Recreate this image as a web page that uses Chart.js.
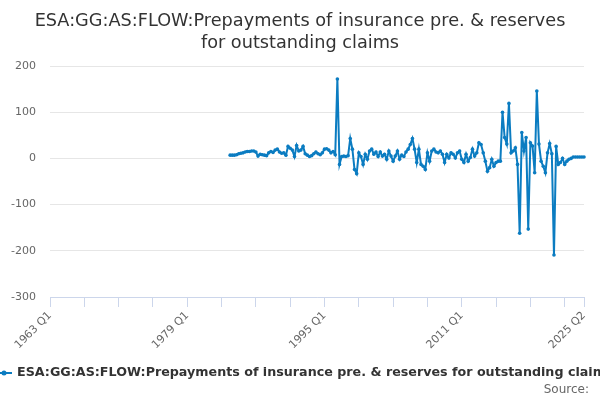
<!DOCTYPE html>
<html>
<head>
<meta charset="utf-8">
<title>ESA:GG:AS:FLOW</title>
<script src="https://cdn.jsdelivr.net/npm/chart.js@4/dist/chart.umd.min.js"></script>
<style>
  html, body { margin: 0; padding: 0; background: #fff; }
  #wrap { width: 600px; height: 400px; position: relative; }
</style>
</head>
<body>
<div id="wrap"><canvas id="flowChart" width="600" height="400"></canvas></div>
<script>
// Quarterly axis: 1963 Q1 .. 2025 Q2
const firstYear = 1963;
const lastYear = 2025;
const lastQuarter = 2;

// Tick labels shown under the axis
const tickLabels = ['1963 Q1', '1979 Q1', '1995 Q1', '2011 Q1', '2025 Q2'];

// Series starts in 1984 Q1
const seriesStart = '1984 Q1';
const titleLines = ['ESA:GG:AS:FLOW:Prepayments of insurance pre. & reserves', 'for outstanding claims'];
const seriesLabel = 'ESA:GG:AS:FLOW:Prepayments of insurance pre. & reserves for outstanding claims';
const flowValues = [
  7, 7, 7, 8, 10, 11, 12, 14, 15, 15, 16, 16, 14, 5,
  9, 8, 7, 6, 12, 15, 13, 18, 20, 14, 11, 12, 7, 26,
  22, 18, 4, 28, 16, 18, 26, 10, 7, 4, 6, 10, 14, 10,
  8, 12, 20, 21, 18, 12, 15, 8, 172, -13, 4, 5, 4, 6,
  43, 20, -24, -33, 12, 4, -13, 9, -2, 16, 20, 9, 14, 4,
  14, 5, 9, -2, 16, 5, -6, 5, 16, -2, 7, 4, 14, 20,
  30, 43, 20, -9, 20, -13, -17, -24, 12, -6, 16, 20, 14, 12,
  16, 9, -9, 9, 1, 12, 9, 1, 12, 16, -2, -9, 9, -6,
  2, 20, 5, 12, 34, 30, 12, -6, -28, -20, -2, -17, -9, -6,
  -6, 100, 45, 31, 119, 12, 16, 23, -13, -162, 56, 16, 45, -153,
  34, 27, -31, 146, 31, -6, -17, -31, 12, 32, 10, -209, 26, -13,
  -9, 0, -13, -6, -2, 0, 3, 3, 3, 3, 3, 3
];

const lineColor = '#0b7cc1';
const fontFamily = "'DejaVu Sans', Verdana, sans-serif";

// categories
const quarters = [];
for (let y = firstYear; y <= lastYear; y++) {
  for (let q = 1; q <= 4; q++) {
    if (y === lastYear && q > lastQuarter) break;
    quarters.push(`${y} Q${q}`);
  }
}
const startIdx = quarters.indexOf(seriesStart);
const seriesData = new Array(startIdx).fill(null).concat(flowValues);
const lastIdx = quarters.length - 1;

// title, legend and source drawn by hand
// (title centred on the whole page, legend overflows the canvas like the original)
const decorations = {
  id: 'decorations',
  afterDraw(chart) {
    const ctx = chart.ctx;
    ctx.save();

    ctx.font = `17.7px ${fontFamily}`;
    ctx.fillStyle = '#333';
    ctx.textAlign = 'center';
    ctx.textBaseline = 'middle';
    ctx.fillText(titleLines[0], 300, 21);
    ctx.fillText(titleLines[1], 300, 43);

    const y = 373;
    ctx.strokeStyle = lineColor;
    ctx.lineWidth = 2;
    ctx.beginPath();
    ctx.moveTo(-2, y);
    ctx.lineTo(12, y);
    ctx.stroke();
    ctx.fillStyle = lineColor;
    ctx.beginPath();
    ctx.arc(4, y, 2.5, 0, Math.PI * 2);
    ctx.fill();

    ctx.font = `bold 12.7px ${fontFamily}`;
    ctx.fillStyle = '#333';
    ctx.textAlign = 'left';
    ctx.fillText(seriesLabel, 17, y);

    ctx.font = `12px ${fontFamily}`;
    ctx.fillStyle = '#666';
    ctx.textAlign = 'right';
    ctx.fillText('Source:', 589, 390);
    ctx.restore();
  }
};

new Chart(document.getElementById('flowChart'), {
  type: 'line',
  data: {
    labels: quarters,
    datasets: [{
      label: seriesLabel,
      data: seriesData,
      borderColor: lineColor,
      backgroundColor: lineColor,
      borderWidth: 2,
      pointRadius: 1.8,
      pointBorderWidth: 0,
      pointBackgroundColor: lineColor,
      tension: 0,
      spanGaps: false
    }]
  },
  options: {
    responsive: false,
    animation: false,
    layout: { padding: { left: 0, right: 16, top: 66, bottom: 40 } },
    plugins: {
      legend: { display: false },
      tooltip: { enabled: false },
      title: { display: false }
    },
    scales: {
      x: {
        type: 'category',
        offset: false,
        afterFit: (scale) => { scale.height = 63; },
        grid: {
          drawOnChartArea: false,
          drawTicks: true,
          tickLength: 10,
          color: (c) => (c.index % 16 === 0 || c.index === lastIdx) ? '#ccd6eb' : 'rgba(0,0,0,0)'
        },
        border: { display: true, color: '#ccd6eb', width: 1 },
        ticks: {
          autoSkip: false,
          minRotation: 45,
          maxRotation: 45,
          padding: 2,
          color: '#666',
          font: { family: fontFamily, size: 11 },
          callback: function (value, index) {
            const lbl = quarters[index];
            return tickLabels.includes(lbl) ? lbl : '';
          }
        }
      },
      y: {
        min: -300,
        max: 200,
        afterFit: (scale) => { scale.width = 50; },
        grid: { color: '#e6e6e6', drawTicks: false },
        border: { display: false },
        ticks: {
          stepSize: 100,
          padding: 14,
          color: '#666',
          font: { family: fontFamily, size: 11 }
        }
      }
    }
  },
  plugins: [decorations]
});
</script>
</body>
</html>
